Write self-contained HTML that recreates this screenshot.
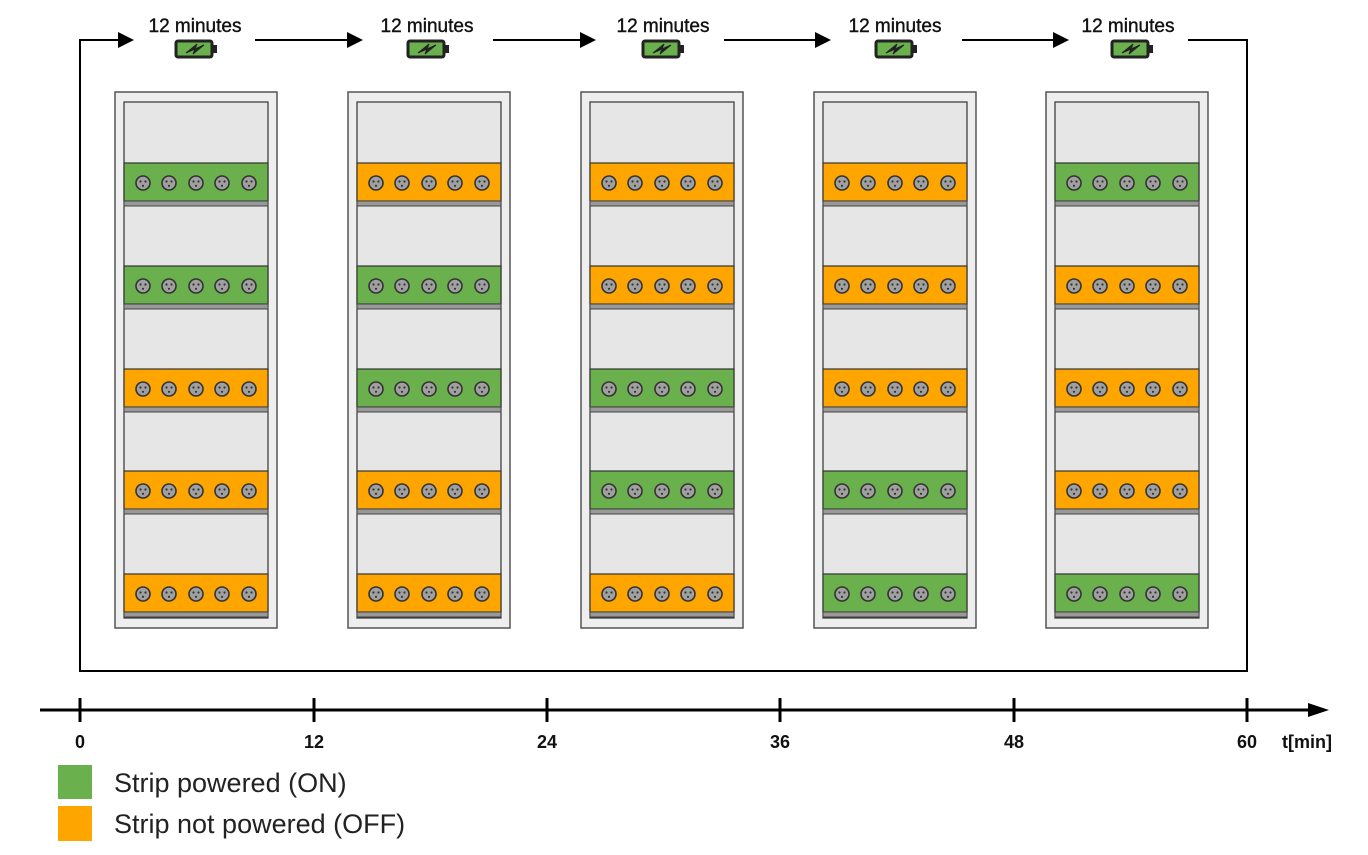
<!DOCTYPE html>
<html><head><meta charset="utf-8"><style>
html,body{margin:0;padding:0;background:#fff;}
svg{display:block;font-family:"Liberation Sans",sans-serif;}
</style></head><body>
<svg width="1368" height="855" viewBox="0 0 1368 855" xmlns="http://www.w3.org/2000/svg">
<defs>
<g id="sk"><circle r="7" fill="#a0a0a0" stroke="#333" stroke-width="1.6"/><circle cx="-2.5" cy="-1.5" r="1.1" fill="#333"/><circle cx="2.5" cy="-1.5" r="1.1" fill="#333"/><circle cx="0" cy="2.8" r="1.1" fill="#333"/></g>
<g id="socks"><use href="#sk" x="19" y="20"/><use href="#sk" x="45" y="20"/><use href="#sk" x="72" y="20"/><use href="#sk" x="98" y="20"/><use href="#sk" x="125" y="20"/></g>
<g id="G"><rect x="0" y="0" width="144" height="38" fill="#6ab04c" stroke="#333" stroke-width="1.2"/><rect x="0" y="38" width="144" height="5" fill="#999" stroke="#444" stroke-width="1"/><use href="#socks"/></g>
<g id="O"><rect x="0" y="0" width="144" height="38" fill="#ffa500" stroke="#333" stroke-width="1.2"/><rect x="0" y="38" width="144" height="5" fill="#999" stroke="#444" stroke-width="1"/><use href="#socks"/></g>
<g id="rack"><rect x="0" y="0" width="162" height="536" fill="#eeeeee" stroke="#555" stroke-width="1.5"/><rect x="9" y="10" width="144" height="516" fill="#e6e6e6" stroke="#333" stroke-width="1.2"/></g>
<g id="bat"><rect x="-19" y="-8" width="36" height="16" rx="2" fill="#6ab04c" stroke="#222" stroke-width="3"/><rect x="17" y="-4" width="5" height="8" fill="#222"/><path d="M-9 4 L2 -5 L0 0 L9 -4 L-2 5 L0 0 Z" fill="#222" stroke="#222" stroke-width="1"/></g>
</defs>

<g stroke="#000" stroke-width="2" fill="none">
<polyline points="120,40 80,40 80,671 1247,671 1247,40 1188,40"/>
<line x1="255" y1="40" x2="350" y2="40"/>
<line x1="493" y1="40" x2="583" y2="40"/>
<line x1="724" y1="40" x2="818" y2="40"/>
<line x1="962" y1="40" x2="1056" y2="40"/>
</g>
<g fill="#000">
<polygon points="118,32 134,40 118,48"/>
<polygon points="347,32 363,40 347,48"/>
<polygon points="580,32 596,40 580,48"/>
<polygon points="815,32 831,40 815,48"/>
<polygon points="1053,32 1069,40 1053,48"/>
</g>
<g font-size="19" text-anchor="middle" fill="#111" stroke="#111" stroke-width="0.4">
<text x="195" y="32">12 minutes</text>
<text x="427" y="32">12 minutes</text>
<text x="663" y="32">12 minutes</text>
<text x="895" y="32">12 minutes</text>
<text x="1128" y="32">12 minutes</text>
</g>
<use href="#bat" x="195" y="49"/>
<use href="#bat" x="427" y="49"/>
<use href="#bat" x="662" y="49"/>
<use href="#bat" x="895" y="49"/>
<use href="#bat" x="1131" y="49"/>

<g transform="translate(115,92)"><use href="#rack"/>
<use href="#G" x="9" y="71"/><use href="#G" x="9" y="174"/><use href="#O" x="9" y="277"/><use href="#O" x="9" y="379"/><use href="#O" x="9" y="482"/></g>
<g transform="translate(348,92)"><use href="#rack"/>
<use href="#O" x="9" y="71"/><use href="#G" x="9" y="174"/><use href="#G" x="9" y="277"/><use href="#O" x="9" y="379"/><use href="#O" x="9" y="482"/></g>
<g transform="translate(581,92)"><use href="#rack"/>
<use href="#O" x="9" y="71"/><use href="#O" x="9" y="174"/><use href="#G" x="9" y="277"/><use href="#G" x="9" y="379"/><use href="#O" x="9" y="482"/></g>
<g transform="translate(814,92)"><use href="#rack"/>
<use href="#O" x="9" y="71"/><use href="#O" x="9" y="174"/><use href="#O" x="9" y="277"/><use href="#G" x="9" y="379"/><use href="#G" x="9" y="482"/></g>
<g transform="translate(1046,92)"><use href="#rack"/>
<use href="#G" x="9" y="71"/><use href="#O" x="9" y="174"/><use href="#O" x="9" y="277"/><use href="#O" x="9" y="379"/><use href="#G" x="9" y="482"/></g>

<line x1="40" y1="710" x2="1312" y2="710" stroke="#000" stroke-width="3"/>
<polygon points="1308,703 1329,710 1308,717" fill="#000"/>
<g stroke="#000" stroke-width="3">
<line x1="80" y1="698" x2="80" y2="722"/><line x1="314" y1="698" x2="314" y2="722"/><line x1="547" y1="698" x2="547" y2="722"/><line x1="780" y1="698" x2="780" y2="722"/><line x1="1014" y1="698" x2="1014" y2="722"/><line x1="1247" y1="698" x2="1247" y2="722"/>
</g>
<g font-size="18" font-weight="bold" text-anchor="middle" fill="#111">
<text x="80" y="748">0</text><text x="314" y="748">12</text><text x="547" y="748">24</text><text x="780" y="748">36</text><text x="1014" y="748">48</text><text x="1247" y="748">60</text>
<text x="1307" y="748">t[min]</text>
</g>

<rect x="58" y="765" width="34" height="34" fill="#6ab04c"/>
<rect x="58" y="806" width="34" height="35" fill="#ffa500"/>
<g font-size="27" fill="#222">
<text x="114" y="792">Strip powered (ON)</text>
<text x="114" y="833">Strip not powered (OFF)</text>
</g>
</svg>
</body></html>
